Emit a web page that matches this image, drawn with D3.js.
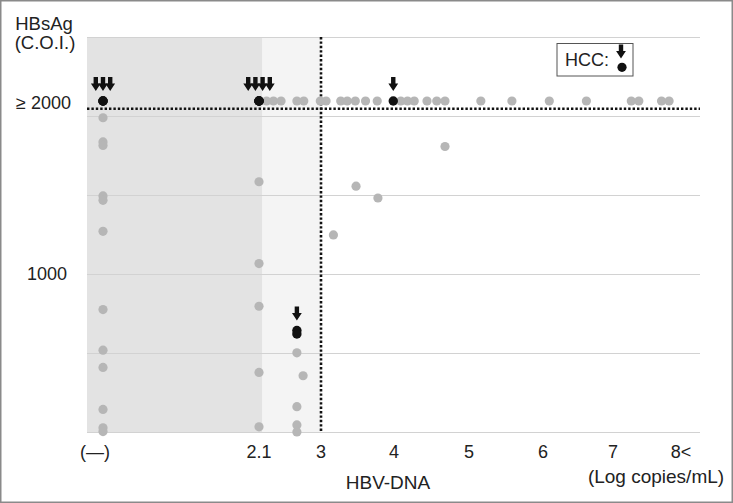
<!DOCTYPE html>
<html><head><meta charset="utf-8">
<script src="https://cdn.jsdelivr.net/npm/d3@7"></script>
<style>
html,body{margin:0;padding:0;background:#fff;}
svg{display:block;font-family:"Liberation Sans",Arial,Helvetica,sans-serif;}
</style></head>
<body>
<svg id="chart" width="733" height="503"></svg>
<script>
// ---- data ----
const xTickValues = [-1, 2.1, 3, 4, 5, 6, 7, 8];
const xTickLabels = ["(\u2014)", "2.1", "3", "4", "5", "6", "7", "8<"];
const yGridValues = [0, 500, 1000, 1500, 2000, 2500];
const yTickValues = [1000, 2095];
const yTickLabels = ["1000", "\u2265 2000"];
const cutoffDNA = 3;        // vertical dotted line (log copies/mL)
const cutoffHBsAg = 2046;   // horizontal dotted line
const shadeDarkEnd = 2.15;  // end of dark-gray band
const shadeLightEnd = 3;    // end of light-gray band

// grey points (no HCC)
const grayX = [
  -1,-1,-1,-1,-1,-1,-1,-1,-1,-1,-1,-1,
  2.1,2.1,2.1,2.1,2.1,
  2.65,2.65,2.65,2.65,2.74,
  3.17,3.48,3.78,4.68,
  2.21,2.31,2.42,2.65,2.75,2.99,3.07,3.27,3.36,3.47,3.61,3.77,
  4.09,4.18,4.27,4.44,4.57,4.68,5.16,5.58,6.09,6.62,7.29,7.41,7.77,7.89
];
const grayY = [
  1989,1836,1814,1494,1466,1270,775,518,409,143,27,3,
  1584,1066,796,377,33,
  501,160,45,0,356,
  1247,1556,1481,1807,
  2095,2095,2095,2095,2095,2095,2095,2095,2095,2095,2095,2095,
  2095,2095,2095,2095,2095,2095,2095,2095,2095,2095,2095,2095,2095,2095
];
// HCC points (black)
const hccX = [-1,-1,-1, 2.1,2.1,2.1,2.1, 3.99, 2.65, 2.65];
const hccY = [2095,2095,2095, 2095,2095,2095,2095, 2095, 642, 620];
// arrows marking HCC cases
const arrowX = [-1, 2.1, 3.99, 2.65];
const arrowY = [2095, 2095, 2095, 642];
const arrowN = [3, 4, 1, 1];

// ---- layout ----
const svg = d3.select("#chart");
const W = 733, H = 503;
const plotLeft = 87, plotRight = 700, plotTop = 37, plotBottom = 432;

const x = d3.scaleLinear().domain(xTickValues)
  .range([103, 259, 321, 394, 469, 543, 613, 676]);
const y = d3.scaleLinear().domain([0, 2500]).range([plotBottom, plotTop]);

// outer frame
svg.append("rect").attr("x",0.75).attr("y",0.75).attr("width",W-1.5).attr("height",H-1.5)
  .attr("fill","#fff").attr("stroke","#8a8a8a").attr("stroke-width",1.5);

// shaded bands
svg.append("rect").attr("x",plotLeft).attr("y",plotTop)
  .attr("width",x(shadeDarkEnd)-plotLeft).attr("height",plotBottom-plotTop)
  .attr("fill","#e3e3e3");
svg.append("rect").attr("x",x(shadeDarkEnd)).attr("y",plotTop)
  .attr("width",x(shadeLightEnd)-x(shadeDarkEnd)).attr("height",plotBottom-plotTop)
  .attr("fill","#f4f4f4");

// grid lines
svg.append("g").selectAll("line").data(yGridValues).join("line")
  .attr("x1",plotLeft).attr("x2",plotRight)
  .attr("y1",d=>y(d)+0.5).attr("y2",d=>y(d)+0.5)
  .attr("stroke","#d2d2d2").attr("stroke-width",1);

// dotted cut-off lines
svg.append("line").attr("x1",plotLeft).attr("x2",plotRight)
  .attr("y1",y(cutoffHBsAg)).attr("y2",y(cutoffHBsAg))
  .attr("stroke","#111").attr("stroke-width",2.6).attr("stroke-dasharray","2.4,2");
svg.append("line").attr("x1",x(cutoffDNA)).attr("x2",x(cutoffDNA))
  .attr("y1",plotTop).attr("y2",plotBottom)
  .attr("stroke","#111").attr("stroke-width",2.6).attr("stroke-dasharray","2.4,2");

// grey points
svg.append("g").selectAll("circle").data(d3.range(grayX.length)).join("circle")
  .attr("cx",i=>x(grayX[i])).attr("cy",i=>y(grayY[i])).attr("r",4.6)
  .attr("fill","#b6b6b6");

// HCC points
svg.append("g").selectAll("circle").data(d3.range(hccX.length)).join("circle")
  .attr("cx",i=>x(hccX[i])).attr("cy",i=>y(hccY[i])).attr("r",4.7)
  .attr("fill","#111");

// arrows
const arrowPath = "M-2.2,-14 L2.2,-14 L2.2,-7.5 L4.9,-7.5 L0,0 L-4.9,-7.5 L-2.2,-7.5 Z";
const arrowData = [];
arrowX.forEach((ax,i)=>{
  const n = arrowN[i], step = 7.2;
  for(let k=0;k<n;k++){
    arrowData.push({cx: x(ax) + (k-(n-1)/2)*step, cy: y(arrowY[i]) - 10});
  }
});
svg.append("g").selectAll("path").data(arrowData).join("path")
  .attr("d",arrowPath).attr("transform",d=>`translate(${d.cx},${d.cy})`)
  .attr("fill","#111");

// x tick labels
svg.append("g").selectAll("text").data(xTickValues).join("text")
  .attr("x",(d,i)=>x(d) + (i===0?-8:(i===xTickValues.length-1?5:0)))
  .attr("y",458).attr("text-anchor","middle")
  .attr("font-size",18).attr("fill","#222")
  .text((d,i)=>xTickLabels[i]);

// y tick labels
svg.append("g").selectAll("text").data(yTickValues).join("text")
  .attr("x",(d,i)=> i===0 ? 67 : 71)
  .attr("y",d=>y(d)).attr("dy",(d,i)=> i===0 ? 6 : 8.5)
  .attr("text-anchor","end").attr("font-size",18).attr("fill","#222")
  .text((d,i)=>yTickLabels[i]);

// axis titles
svg.append("text").attr("x",44).attr("y",30).attr("text-anchor","middle")
  .attr("font-size",18.5).attr("fill","#222").text("HBsAg");
svg.append("text").attr("x",45).attr("y",49).attr("text-anchor","middle")
  .attr("font-size",18.5).attr("fill","#222").text("(C.O.I.)");
svg.append("text").attr("x",388).attr("y",489).attr("text-anchor","middle")
  .attr("font-size",19).attr("fill","#222").text("HBV-DNA");
svg.append("text").attr("x",656).attr("y",483).attr("text-anchor","middle")
  .attr("font-size",19).attr("fill","#222").text("(Log copies/mL)");

// legend
const lg = svg.append("g");
lg.append("rect").attr("x",557).attr("y",43.5).attr("width",76).attr("height",32.5)
  .attr("fill","#fff").attr("stroke","#555").attr("stroke-width",1);
lg.append("text").attr("x",565).attr("y",66).attr("font-size",18).attr("fill","#222").text("HCC:");
lg.append("path").attr("d",arrowPath).attr("transform","translate(621,58.5)").attr("fill","#111");
lg.append("circle").attr("cx",622).attr("cy",67.3).attr("r",4.6).attr("fill","#111");
</script>
</body></html>
